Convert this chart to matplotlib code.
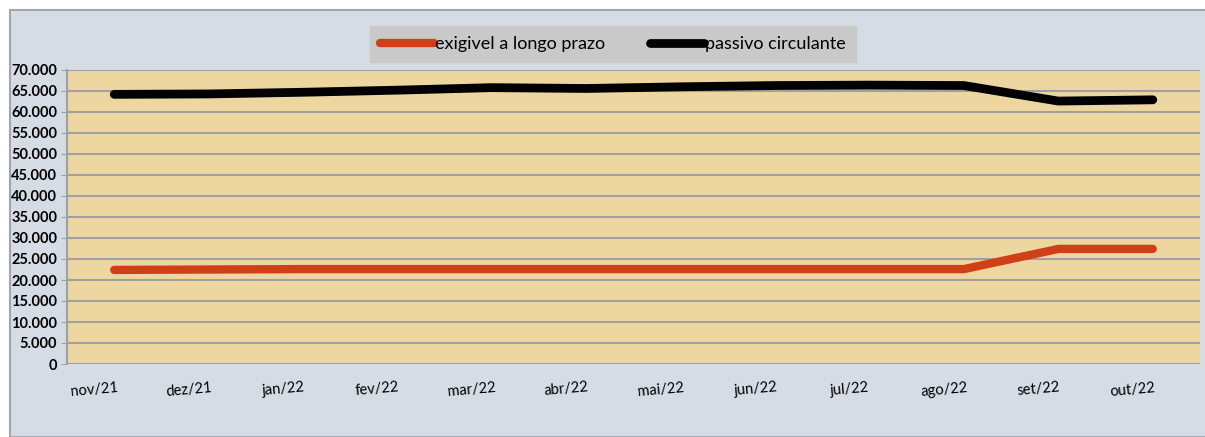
import matplotlib
matplotlib.use("Agg")
import matplotlib.pyplot as plt
from matplotlib.patches import Rectangle
from matplotlib.ticker import FuncFormatter
from matplotlib.transforms import ScaledTranslation

months = ["nov/21", "dez/21", "jan/22", "fev/22", "mar/22", "abr/22",
          "mai/22", "jun/22", "jul/22", "ago/22", "set/22", "out/22"]
exigivel = [22400, 22500, 22600, 22600, 22600, 22600, 22600, 22600, 22600, 22600, 27400, 27400]
passivo = [64200, 64300, 64700, 65200, 65800, 65600, 66000, 66300, 66400, 66300, 62600, 62900]

plt.rcParams['font.family'] = ['Lato', 'DejaVu Sans']

W, H = 1205, 437
fig = plt.figure(figsize=(W / 100, H / 100), dpi=100)
fig.patch.set_facecolor("white")
fig.add_artist(Rectangle((10 / W, 0), 1.2, 1 - 10 / H, transform=fig.transFigure,
                         facecolor="#D6DCE5", edgecolor="#A6A6A6", linewidth=1.5, zorder=0))

ax = fig.add_axes([67 / W, 1 - 364 / H, (1200 - 67) / W, (364 - 70) / H])
ax.set_facecolor("#EDD6A0")
x = range(len(months))
ax.plot(x, exigivel, color="#D04018", linewidth=6, solid_capstyle="round",
        label="exigivel a longo prazo", zorder=3)
ax.plot(x, passivo, color="black", linewidth=6.3, solid_capstyle="round",
        label="passivo circulante", zorder=3)

ax.set_xlim(-0.5, len(months) - 0.5)
ax.set_ylim(0, 70000)
ax.set_yticks(range(0, 70001, 5000))
ax.yaxis.set_major_formatter(FuncFormatter(lambda v, p: f"{int(v):,}".replace(",", ".")))
ax.grid(axis="y", color="#A0A0A0", linewidth=1.5, zorder=1)
ax.set_axisbelow(True)
ax.set_xticks(list(x))
ax.set_xticklabels(months, rotation=5, fontsize=10.5)
ax.tick_params(axis="x", length=0, pad=12)
offset = ScaledTranslation(-20 / 100, 0, fig.dpi_scale_trans)
for lbl in ax.get_xticklabels():
    lbl.set_transform(lbl.get_transform() + offset)
ax.tick_params(axis="y", length=4, color="#A0A0A0", labelsize=10.5, pad=3)
for lbl in ax.get_yticklabels():
    lbl.set_fontweight("bold")
for s in ["top", "right", "bottom"]:
    ax.spines[s].set_visible(False)
ax.spines["left"].set_color("#A0A0A0")
ax.spines["left"].set_linewidth(1.5)

leg = fig.legend(loc="center", bbox_to_anchor=(613 / W, 1 - 44 / H), ncol=2,
                 frameon=True, fontsize=13, handlelength=3.0, handletextpad=0.05,
                 columnspacing=2.5, borderpad=0.55, borderaxespad=0, fancybox=False)
leg.get_frame().set_facecolor("#C9C9C9")
leg.get_frame().set_edgecolor("#C9C9C9")
leg.get_frame().set_alpha(1)

fig.savefig("out.png", dpi=100)
